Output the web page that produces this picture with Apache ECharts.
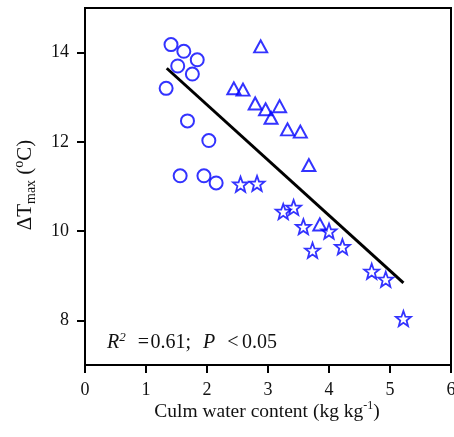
<!DOCTYPE html>
<html>
<head>
<meta charset="utf-8">
<script src="https://cdn.jsdelivr.net/npm/echarts@6/dist/echarts.min.js"></script>
<style>
html,body{margin:0;padding:0;background:#fff;}
#c{width:454px;height:437px;}
</style>
</head>
<body>
<div id="c"></div>
<script>
const circleX = [1.41, 1.62, 1.84, 1.52, 1.76, 1.33, 1.68, 2.03, 1.56, 1.95, 2.15];
const circleY = [14.18, 14.03, 13.84, 13.70, 13.52, 13.20, 12.47, 12.03, 11.24, 11.24, 11.08];
const triX = [2.88, 2.44, 2.59, 2.79, 2.96, 3.19, 3.05, 3.32, 3.53, 3.67, 3.85];
const triY = [14.14, 13.20, 13.17, 12.86, 12.73, 12.80, 12.54, 12.28, 12.23, 11.48, 10.15];
const starX = [2.55, 2.82, 3.25, 3.42, 3.58, 4.00, 3.73, 4.22, 4.70, 4.93, 5.22];
const starY = [11.05, 11.07, 10.44, 10.53, 10.10, 10.00, 9.57, 9.65, 9.10, 8.92, 8.04];
const fitX = [1.34, 5.22];
const fitY = [13.65, 8.84];
const xTicks = [0, 1, 2, 3, 4, 5, 6];
const yTicks = [8, 10, 12, 14];

const zip = (a, b) => a.map((v, i) => [v, b[i]]);
const FONT = '"Liberation Serif", "Times New Roman", serif';
const BLUE = '#0000ff';
const starPath = 'path://M50,0 L62.5,34 L97.6,34.5 L70,56.5 L79.4,90.5 L50,71 L20.6,90.5 L30,56.5 L2.4,34.5 L37.5,34 Z';

const chart = echarts.init(document.getElementById('c'));
chart.setOption({
  animation: false,
  backgroundColor: '#fff',
  grid: {left: 85, right: 3, top: 8, bottom: 72, containLabel: false, outerBoundsMode: 'none',
         show: true, borderColor: '#000', borderWidth: 2, backgroundColor: 'transparent'},
  xAxis: {
    type: 'value', min: xTicks[0], max: xTicks[xTicks.length - 1], interval: 1,
    axisLine: {show: true, lineStyle: {color: '#000', width: 2}},
    axisTick: {show: true, inside: false, length: 8, lineStyle: {color: '#000', width: 2}},
    axisLabel: {color: '#111', fontFamily: FONT, fontSize: 18, margin: 16, showMaxLabel: true, showMinLabel: true},
    splitLine: {show: false}
  },
  yAxis: {
    type: 'value', min: 7, max: 15, interval: 1,
    axisLine: {show: true, lineStyle: {color: '#000', width: 2}},
    axisTick: {show: true, inside: false, length: 8, customValues: yTicks, lineStyle: {color: '#000', width: 2}},
    axisLabel: {color: '#111', fontFamily: FONT, fontSize: 18, margin: 16, customValues: yTicks},
    splitLine: {show: false}
  },
  series: [
    {type: 'line', data: zip(fitX, fitY), symbol: 'none', lineStyle: {color: '#000', width: 3}, z: 1},
    {type: 'scatter', data: zip(circleX, circleY), symbol: 'circle', symbolSize: 13,
     itemStyle: {color: 'rgba(0,0,0,0)', borderColor: BLUE, borderWidth: 2}, z: 3},
    {type: 'scatter', data: zip(triX, triY), symbol: 'triangle', symbolSize: [13, 12],
     itemStyle: {color: 'rgba(0,0,0,0)', borderColor: BLUE, borderWidth: 2}, z: 3},
    {type: 'scatter', data: zip(starX, starY), symbol: starPath, symbolSize: 15,
     itemStyle: {color: 'rgba(0,0,0,0)', borderColor: BLUE, borderWidth: 1.8}, z: 3}
  ],
  graphic: [
    {type: 'text', left: 107, top: 331, style: {
      text: '{i|R}{sup|2}{g|}{n|=}{h|}{n|0.61;}{g|}{i|P}{g|}{n|<}{k|}{n|0.05}',
      rich: {
        i: {fontFamily: FONT, fontSize: 20, fontStyle: 'italic', fill: '#111', lineHeight: 24},
        n: {fontFamily: FONT, fontSize: 20, fill: '#111', lineHeight: 24},
        g: {width: 12, lineHeight: 24},
        h: {width: 1.5, lineHeight: 24},
        k: {width: 3.5, lineHeight: 24},
        sup: {fontFamily: FONT, fontSize: 13, fontStyle: 'italic', fill: '#111', lineHeight: 15, verticalAlign: 'top'}
      }
    }},
    {type: 'text', x: 267, y: 412, style: {
      text: '{n|Culm water content (kg kg}{sup|-1}{n|)}',
      align: 'center', verticalAlign: 'middle',
      rich: {
        n: {fontFamily: FONT, fontSize: 19.5, fill: '#111', lineHeight: 24},
        sup: {fontFamily: FONT, fontSize: 12, fill: '#111', lineHeight: 15, verticalAlign: 'top'}
      }
    }},
    {type: 'text', x: 25, y: 185, rotation: Math.PI / 2, style: {
      text: '{n|ΔT}{sub|max}{n| (}{sup|o}{n|C)}',
      align: 'center', verticalAlign: 'middle',
      rich: {
        n: {fontFamily: FONT, fontSize: 21, fill: '#111', lineHeight: 26},
        sub: {fontFamily: FONT, fontSize: 14, fill: '#111', lineHeight: 16, verticalAlign: 'bottom'},
        sup: {fontFamily: FONT, fontSize: 14, fill: '#111', lineHeight: 16, verticalAlign: 'top'}
      }
    }}
  ]
});
</script>
</body>
</html>
